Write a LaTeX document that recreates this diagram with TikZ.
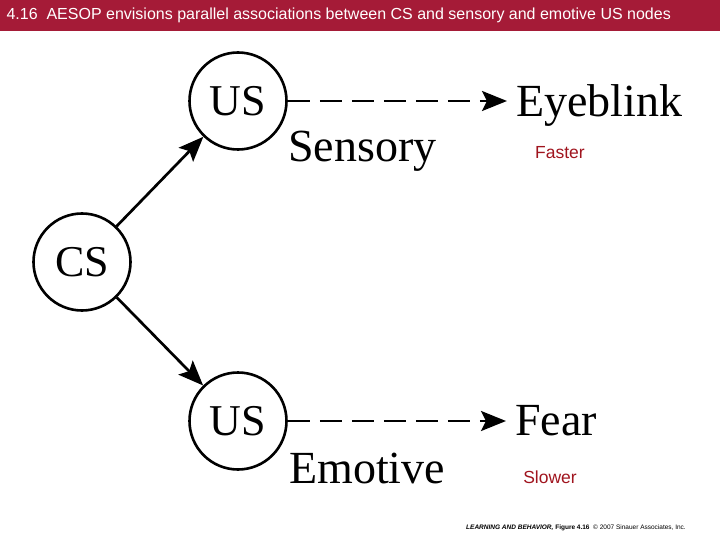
\documentclass[tikz,border=0pt]{standalone}
\usepackage{fontspec}
\setmainfont{Liberation Serif}
\newfontfamily\arial{Liberation Sans}
\usetikzlibrary{arrows.meta}
\definecolor{barred}{RGB}{165,27,55}
\definecolor{speedred}{RGB}{160,20,30}

\begin{document}
\begin{tikzpicture}[x=1pt,y=-1pt,
  unit/.style={draw,circle,line width=2.6pt,minimum size=97pt,inner sep=0pt,font=\fontsize{44}{44}\selectfont},
  label/.style={anchor=base west,inner sep=0pt,font=\fontsize{46}{46}\selectfont},
  speed/.style={font=\arial\fontsize{17.5}{17.5}\selectfont,text=speedred},
  link/.style={line width=2.7pt,-{Stealth[length=25pt,width=20pt,inset=5pt]}},
  pairing/.style={link,dash pattern=on 22pt off 10pt,shorten >=9pt}]
\useasboundingbox (0,0) rectangle (720,540);
% title bar
\fill[barred] (0,0) rectangle (720,31);
\node[anchor=west,text=white,font=\arial\fontsize{16}{16}\selectfont] (title) at (3,15) {4.16\ \ AESOP envisions parallel associations between CS and sensory and emotive US nodes};
% nodes
\node[unit] (cs) at (82,262) {CS};
\node[unit] (ussens) at (238,101) {US};
\node[unit] (usemo) at (238,421) {US};
\node[label] (blink) at (516,116.5) {Eyeblink};
\node[label] (fear) at (515,435) {Fear};
\node[label] (sens) at (288,162) {Sensory};
\node[label] (emo) at (289,483) {Emotive};
\node[speed] (fast) at (560,153) {Faster};
\node[speed] (slow) at (550,477) {Slower};
% connectors
\draw[link] (cs) -- (ussens);
\draw[link] (cs) -- (usemo);
\draw[pairing] (ussens) -- (ussens -| blink.west);
\draw[pairing] (usemo) -- (usemo -| fear.west);
% credit line
\node[anchor=base east,inner sep=0pt,font=\arial\fontsize{6.5}{6.5}\selectfont] (credit) at (686,529) {\textbf{\textit{LEARNING AND BEHAVIOR,} Figure 4.16}\ \ \textcopyright\ 2007 Sinauer Associates, Inc.};
\end{tikzpicture}
\end{document}
